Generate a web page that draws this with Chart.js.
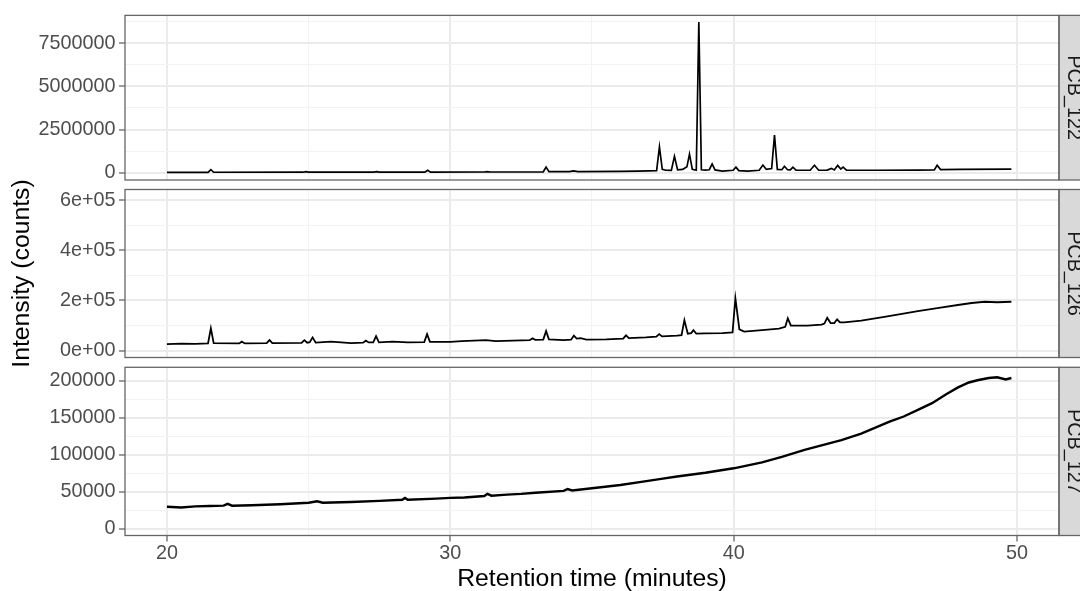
<!DOCTYPE html>
<html>
<head>
<meta charset="utf-8">
<title>PCB chromatograms</title>
<script src="https://cdn.jsdelivr.net/npm/chart.js@4.4.1/dist/chart.umd.min.js"></script>
<style>
  html, body { margin: 0; padding: 0; background: #fff; }
  #wrap { position: relative; width: 1080px; height: 591px; overflow: hidden; }
  #wrap canvas { position: absolute; left: 0; top: 0; }
</style>
</head>
<body>
<div id="wrap">
  <canvas id="c1" width="1080" height="591"></canvas>
  <canvas id="c2" width="1080" height="591"></canvas>
  <canvas id="c3" width="1080" height="591"></canvas>
</div>
<script>
const panelNames = ['PCB_122', 'PCB_126', 'PCB_127'];

// retention time (min) / intensity (counts)
const pcb122Time = [20.0, 21.45, 21.55, 21.65, 24.8, 24.9, 25.0, 27.3, 27.4, 27.5, 29.1, 29.2, 29.3,
  31.2, 31.3, 31.4, 33.28, 33.38, 33.48, 34.2, 34.35, 34.5, 36.0, 36.6, 37.0, 37.28, 37.38, 37.48,
  37.6, 37.8, 37.91, 38.02, 38.2, 38.35, 38.44, 38.54, 38.68, 38.77, 38.86, 39.0, 39.14, 39.24, 39.34,
  39.6, 39.98, 40.08, 40.18, 40.5, 40.9, 41.03, 41.15, 41.34, 41.44, 41.54, 41.7, 41.79, 41.9, 42.0,
  42.09, 42.2, 42.7, 42.85, 43.0, 43.3, 43.45, 43.55, 43.67, 43.78, 43.86, 43.98, 45.0, 46.5, 47.08,
  47.18, 47.3, 48.0, 49.8];
const pcb122Counts = [30000, 32000, 180000, 33000, 36000, 70000, 37000, 40000, 65000, 41000, 42000, 150000, 43000,
  48000, 75000, 50000, 60000, 330000, 65000, 70000, 110000, 72000, 85000, 95000, 110000, 130000, 1500000, 200000,
  150000, 140000, 950000, 170000, 200000, 350000, 1080000, 200000, 150000, 8730000, 180000, 160000, 180000, 520000, 170000,
  100000, 150000, 330000, 130000, 100000, 150000, 450000, 200000, 250000, 2180000, 200000, 180000, 380000, 180000, 170000,
  330000, 160000, 150000, 440000, 150000, 160000, 260000, 170000, 430000, 220000, 330000, 160000, 150000, 160000, 170000,
  440000, 190000, 200000, 210000];

const pcb126Time = [20.0, 20.5, 21.0, 21.45, 21.55, 21.65, 22.55, 22.64, 22.75, 23.52, 23.62, 23.72,
  24.75, 24.85, 24.95, 25.04, 25.14, 25.25, 25.79, 26.5, 26.92, 27.02, 27.12, 27.28, 27.38, 27.48, 27.97,
  28.5, 29.08, 29.18, 29.28, 30.0, 30.4, 31.26, 31.6, 32.2, 32.8, 32.9, 33.0, 33.28, 33.38, 33.48, 34.0,
  34.26, 34.36, 34.46, 34.6, 34.8, 35.5, 36.1, 36.2, 36.3, 36.9, 37.27, 37.37, 37.47, 38.0, 38.16, 38.26,
  38.38, 38.5, 38.58, 38.68, 39.0, 39.6, 39.96, 40.06, 40.2, 40.37, 41.0, 41.6, 41.82, 41.91, 42.02, 42.6,
  43.1, 43.2, 43.3, 43.42, 43.55, 43.65, 43.75, 43.9, 44.5, 45.32, 46.5, 47.3, 47.91, 48.4, 48.85, 49.3, 49.8];
const pcb126Counts = [26000, 28000, 27000, 29000, 89000, 30000, 29000, 36000, 29000, 30000, 42000, 30000,
  31000, 42000, 32000, 34000, 53000, 32000, 36000, 30000, 32000, 40000, 33000, 33000, 58000, 33000, 36000,
  33000, 34000, 66000, 35000, 35000, 38000, 42000, 38000, 40000, 42000, 49000, 43000, 44000, 78000, 45000, 42000,
  44000, 60000, 48000, 50000, 44000, 45000, 48000, 61000, 50000, 53000, 56000, 66000, 57000, 60000, 62000, 122000,
  68000, 70000, 82000, 68000, 69000, 70000, 73000, 209000, 85000, 76000, 82000, 88000, 95000, 129000, 100000, 100000,
  104000, 108000, 131000, 110000, 110000, 125000, 113000, 113000, 120000, 135000, 158000, 172000, 182000, 190000, 195000, 193000, 195000];

const pcb127Time = [20.0, 20.5, 21.0, 21.5, 22.0, 22.14, 22.3, 23.0, 24.0, 25.0, 25.3, 25.5, 26.5, 27.5,
  28.3, 28.4, 28.5, 29.5, 30.0, 30.5, 31.2, 31.31, 31.45, 32.0, 32.5, 33.0, 34.0, 34.14, 34.3, 35.0, 36.0,
  36.8, 37.5, 38.0, 39.0, 40.0, 41.0, 41.7, 42.5, 43.0, 43.8, 44.5, 45.0, 45.5, 46.0, 46.5, 47.0, 47.5,
  47.9, 48.3, 48.6, 49.0, 49.3, 49.6, 49.8];
const pcb127Counts = [30000, 29000, 30500, 31000, 31500, 34000, 31500, 32000, 33500, 35500, 37500, 35500, 36500, 38000,
  39500, 42000, 39500, 41000, 42000, 42500, 44500, 47500, 45000, 46500, 47500, 49000, 51500, 54000, 52000, 55000, 59500,
  64000, 68000, 71000, 76000, 82000, 90000, 97500, 107000, 112000, 120000, 129000, 137000, 145000, 152000, 161000, 170000, 182000,
  191000, 198000, 201000, 204000, 205000, 202000, 204000];

// axis ticks
const xMajorTicks = [20, 30, 40, 50];
const xTickLabels = ['20', '30', '40', '50'];
const xMinorTicks = [25, 35, 45];

const pcb122Ticks = [0, 2500000, 5000000, 7500000];
const pcb122TickLabels = ['0', '2500000', '5000000', '7500000'];
const pcb122MinorTicks = [1250000, 3750000, 6250000, 8750000];

const pcb126Ticks = [0, 200000, 400000, 600000];
const pcb126TickLabels = ['0e+00', '2e+05', '4e+05', '6e+05'];
const pcb126MinorTicks = [100000, 300000, 500000];

const pcb127Ticks = [0, 50000, 100000, 150000, 200000];
const pcb127TickLabels = ['0', '50000', '100000', '150000', '200000'];
const pcb127MinorTicks = [25000, 75000, 125000, 175000];

const FONT = '"Liberation Sans", Arial, Helvetica, sans-serif';
Chart.defaults.font.family = FONT;

// border + grey facet strip on the right of each panel
const panelFrame = {
  id: 'panelFrame',
  afterDraw(chart, args, opts) {
    const { ctx, chartArea: a } = chart;
    const h = a.bottom - a.top;
    ctx.save();
    ctx.fillStyle = '#D9D9D9';
    ctx.fillRect(a.right, a.top, 60, h);
    ctx.strokeStyle = '#666666';
    ctx.lineWidth = 1.3;
    ctx.strokeRect(a.left, a.top, a.right - a.left, h);
    ctx.strokeRect(a.right, a.top, 60, h);
    ctx.translate(a.right + 9, a.top + h / 2);
    ctx.rotate(Math.PI / 2);
    ctx.fillStyle = '#1A1A1A';
    ctx.font = '19.8px ' + FONT;
    ctx.textAlign = 'center';
    ctx.textBaseline = 'alphabetic';
    ctx.fillText(opts.label, 0, 0);
    ctx.restore();
  }
};

function tickList(major, minor) {
  return major.concat(minor).sort((a, b) => a - b).map(v => ({ value: v }));
}

function gridOpts(major, showTicks) {
  const isMajor = c => c.tick && major.includes(c.tick.value);
  return {
    color: c => isMajor(c) ? '#EBEBEB' : '#F3F3F3',
    lineWidth: c => isMajor(c) ? 2 : 1.1,
    drawTicks: showTicks,
    tickLength: 6,
    tickWidth: 1.3,
    tickColor: c => isMajor(c) ? '#666666' : 'rgba(0,0,0,0)'
  };
}

function makePanel(id, p) {
  const points = p.time.map((t, i) => ({ x: t, y: p.counts[i] }));
  const showX = p.showX;
  return new Chart(document.getElementById(id), {
    type: 'line',
    data: {
      datasets: [{
        label: p.name,
        data: points,
        borderColor: '#000000',
        borderWidth: p.lineWidth,
        pointRadius: 0,
        tension: 0,
        fill: false
      }]
    },
    plugins: [panelFrame],
    options: {
      responsive: false,
      animation: false,
      devicePixelRatio: 1,
      layout: { padding: { left: 0, right: 21, top: p.top, bottom: p.bottom } },
      plugins: {
        legend: { display: false },
        tooltip: { enabled: false },
        panelFrame: { label: p.name }
      },
      scales: {
        x: {
          type: 'linear',
          min: 18.52,
          max: 51.48,
          afterBuildTicks: s => { s.ticks = tickList(xMajorTicks, xMinorTicks); },
          afterFit: s => { s.height = showX ? 55.5 : 0; },
          ticks: {
            display: showX,
            autoSkip: false,
            maxRotation: 0,
            padding: 0,
            color: '#4D4D4D',
            font: { size: 19.8 },
            callback: v => { const i = xMajorTicks.indexOf(v); return i >= 0 ? xTickLabels[i] : ''; }
          },
          grid: gridOpts(xMajorTicks, showX),
          border: { display: false },
          title: {
            display: showX,
            text: 'Retention time (minutes)',
            color: '#000000',
            font: { size: 24.75 },
            padding: { top: 0, bottom: -3 }
          }
        },
        y: {
          type: 'linear',
          min: p.yMin,
          max: p.yMax,
          afterBuildTicks: s => { s.ticks = tickList(p.ticks, p.minor); },
          afterFit: s => { s.width = 125; },
          ticks: {
            autoSkip: false,
            padding: 3.5,
            color: '#4D4D4D',
            font: { size: 19.8 },
            callback: v => { const i = p.ticks.indexOf(v); return i >= 0 ? p.labels[i] : ''; }
          },
          grid: gridOpts(p.ticks, true),
          border: { display: false },
          title: {
            display: p.showTitle,
            text: 'Intensity (counts)',
            color: '#000000',
            font: { size: 24.75 },
            padding: { top: 7, bottom: 0 }
          }
        }
      }
    }
  });
}

makePanel('c1', {
  name: panelNames[0], time: pcb122Time, counts: pcb122Counts,
  ticks: pcb122Ticks, labels: pcb122TickLabels, minor: pcb122MinorTicks,
  yMin: -414000, yMax: 9110000, top: 12, bottom: 411, showX: false, showTitle: false, lineWidth: 1.7
});
makePanel('c2', {
  name: panelNames[1], time: pcb126Time, counts: pcb126Counts,
  ticks: pcb126Ticks, labels: pcb126TickLabels, minor: pcb126MinorTicks,
  yMin: -27100, yMax: 642200, top: 189.5, bottom: 233.5, showX: false, showTitle: true, lineWidth: 1.8
});
makePanel('c3', {
  name: panelNames[2], time: pcb127Time, counts: pcb127Counts,
  ticks: pcb127Ticks, labels: pcb127TickLabels, minor: pcb127MinorTicks,
  yMin: -8800, yMax: 218500, top: 367.3, bottom: 0, showX: true, showTitle: false, lineWidth: 2.4
});
</script>
</body>
</html>
